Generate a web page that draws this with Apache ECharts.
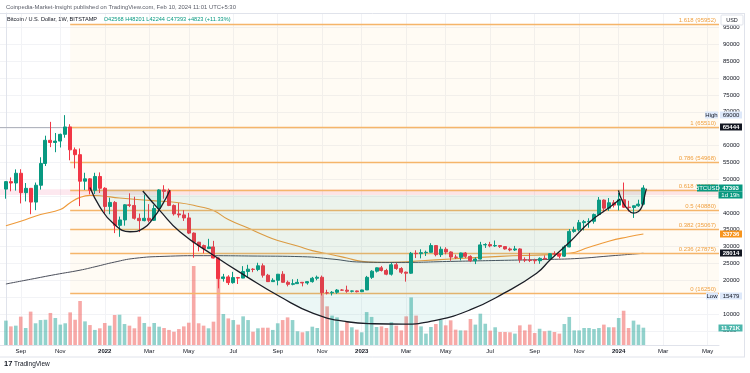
<!DOCTYPE html>
<html><head><meta charset="utf-8">
<script src="https://cdn.jsdelivr.net/npm/echarts@6/dist/echarts.min.js"></script>
<style>html,body{margin:0;padding:0;background:#fff}#c{width:750px;height:373px}</style>
</head><body><div id="c"></div>
<script>
// ---------------- DATA ----------------
const firstWeek = '2021-08-16';           // week index 0
const monthTickDates = ['2021-09-06','2021-11-01','2022-01-03','2022-03-07','2022-05-02','2022-07-04','2022-09-05','2022-11-07','2023-01-02','2023-03-06','2023-05-01','2023-07-03','2023-09-04','2023-11-06','2024-01-01','2024-03-04','2024-05-06'];
const monthTickLabels = ['Sep','Nov','2022','Mar','May','Jul','Sep','Nov','2023','Mar','May','Jul','Sep','Nov','2024','Mar','May'];
const priceTicks = [5000,10000,15000,20000,25000,30000,35000,40000,45000,50000,55000,60000,65000,70000,75000,80000,85000,90000,95000];

const opens = [
47050,49270,48860,51750,46000,47280,43200,48200,54660,61530,
60880,61300,63300,65500,58700,57270,49400,50100,46700,50800,
47300,41900,43100,36300,37900,42400,42200,38400,37700,38400,
37800,41300,46800,46400,42200,39700,39400,38500,34000,31300,
30300,29400,29900,26600,20500,21000,19300,20800,20650,22600,
23300,23200,24300,21500,19600,20000,21800,19400,18800,19000,
19400,19200,19600,20600,20900,16300,16280,16450,17100,17080,
16750,16840,16620,17130,20870,22700,23700,22900,21800,24600,
23500,22400,22100,28000,27900,28200,28300,30300,27600,29200,
28400,26900,26800,28100,27100,25800,26300,30500,30600,30200,
30300,30000,29300,29000,29300,26100,26000,25900,25800,26500,
26300,27900,27850,27150,29900,34500,35000,37100,37400,37500,
39500,43800,41400,43000,42300,43900,41700,41600,42100,42568];
const highs = [
49450,50500,52900,52950,48850,47350,49000,56500,62900,67000,
63700,63500,69000,66300,59400,59100,51900,50300,51900,52000,
47600,44500,43500,38900,42600,45800,44800,39800,45400,42600,
42300,47000,48200,47200,42500,42900,40800,40000,34200,31400,
30600,32300,31700,26800,21900,21500,22500,21000,24200,24600,
23600,25200,25000,21900,20600,21850,22700,19900,20300,20400,
19500,19700,21000,21400,21400,17200,16800,17400,17400,18400,
16950,16950,17200,21300,23000,23800,24250,23400,25200,25200,
23900,22600,28400,28900,29200,28800,31000,30400,30000,29800,
28600,27600,28200,28400,27400,26800,31400,31000,31400,31800,
30400,30100,29700,30200,29500,26800,28100,26400,26800,27400,
28000,28600,27900,30400,35200,35900,37900,37900,38400,39800,
44700,44000,44400,43800,45900,49000,43600,42200,43900,48201];
const lows = [
44200,46400,46600,42800,43400,39600,40800,46900,53900,59500,
58000,59400,62300,55600,53200,42000,46800,45500,45600,45900,
39700,39600,34000,32900,36200,41700,38000,34300,37500,37200,
37600,40500,44200,42000,39200,38600,37600,33700,26700,28600,
28000,29300,26500,17600,19600,18600,19000,18900,20600,20700,
22400,22700,20800,19500,19500,18500,19300,18200,18500,18900,
18200,18700,19300,20000,15500,15800,15479,16000,16900,16300,
16400,16400,16500,17100,20400,22300,22600,21500,21400,23100,
21900,19600,21900,26600,26500,27200,28200,27100,26900,27700,
25800,26300,25900,26600,25400,24800,26200,29600,29800,29900,
29600,29100,28600,28700,25200,25400,25400,24900,24900,26100,
26000,27200,26500,26900,29800,34100,34500,34800,35600,36800,
39300,40200,40600,41600,40700,41500,40400,38500,41800,42244];
const closes = [
49270,48860,51750,46000,47280,43200,48200,54660,61530,60880,
61300,63300,65500,58700,57270,49400,50100,46700,50800,47300,
41900,43100,36300,37900,42400,42200,38400,37700,38400,37800,
41300,46800,46400,42200,39700,39400,38500,34000,31300,30300,
29400,29900,26600,20500,21000,19300,20800,20650,22600,23300,
23200,24300,21500,19600,20000,21800,19400,18800,19000,19400,
19200,19600,20600,20900,16300,16280,16450,17100,17080,16750,
16840,16620,17130,20870,22700,23700,22900,21800,24600,23500,
22400,22100,28000,27900,28200,28300,30300,27600,29200,28400,
26900,26800,28100,27100,25800,26300,30500,30600,30200,30300,
30000,29300,29000,29300,26100,26000,25900,25800,26500,26300,
27900,27850,27150,29900,34500,35000,37100,37400,37500,39500,
43800,41400,43000,42300,43900,41700,41600,42100,42600,47393];
// weekly volume, thousands of BTC
const volumes = [
16.5,12.6,13.1,19.2,11.5,22.6,14.7,16.9,17.1,21.7,
18.3,13.8,14.7,22.1,17.1,29.8,16.0,13.5,10.2,11.3,
14.9,13.1,20.3,20.5,14.2,13.1,11.3,19.2,14.9,12.4,
14.9,12.4,11.5,10.2,9.0,10.8,12.6,15.1,53.5,14.7,
13.1,11.3,15.8,55.5,21.0,18.0,16.9,13.8,19.4,16.9,
9.0,11.3,11.7,11.7,10.2,14.7,16.9,18.7,16.9,9.3,
8.6,9.3,12.4,11.5,36.6,26.2,19.9,18.7,9.7,16.0,
12.0,10.4,8.6,22.3,19.0,12.2,12.6,11.5,15.4,13.1,
9.9,19.4,32.2,19.9,12.6,7.7,12.2,14.2,17.1,13.3,
16.7,10.4,9.9,9.9,17.6,13.8,21.2,14.4,9.7,12.0,
8.8,8.8,8.6,7.7,13.3,9.9,13.8,8.1,11.0,9.3,
9.7,8.8,7.7,14.2,19.0,9.9,9.9,11.5,11.5,10.8,
11.5,13.8,12.0,12.0,18.3,23.2,11.5,16.5,13.8,11.71];

// moving averages (week index, value)
const ma50Weeks = [0,3,7,11,13,15,17,19,23,29,35,39,42,45,49,52,55,59,62,66,69,72,75,80,84,90,100,110,114,118,122,126,129];
const ma50Vals  = [36200,37500,39500,41000,43000,44600,45200,45100,44400,43700,43000,41900,40700,38000,35500,33500,31800,30200,28800,27600,26600,25600,25300,25400,25800,26300,27100,27600,28000,29800,31600,32900,33736];
const ma200Weeks = [0,5,10,15,18,22,26,32,40,50,60,66,72,80,90,100,110,116,122,129];
const ma200Vals  = [18900,20300,21700,23000,24000,25400,26500,27100,27300,27200,27000,26300,25400,25300,25600,25900,26200,26500,27200,28014];

// fibonacci retracement levels
const fibRatios = ['1.618','1','0.786','0.618','0.5','0.382','0.236','0'];
const fibPrices = [95952,65510,54968,46693,40880,35067,27875,16250];
const fibStartWeek = 13;
const hLinePrice = 65444;
const zoneLow = 45300, zoneHigh = 47000;

// drawn cup / handle arcs (week index, price)
const smallArcWeeks = [17.0,19.0,21.7,25.1,27.8,29.8,31.8,33.2];
const smallArcVals  = [47500,41800,36900,34400,35400,38400,42800,46800];
const bigArcWeeks = [27.7,31.2,35.2,41.9,48.7,55.5,62.2,69.0,74.4,80.4,87.2,93.9,100.7,107.4,110.1,114.2,118.2,122.3,124.3];
const bigArcVals  = [46500,40600,34400,27500,21100,15100,10200,7700,7100,7000,8200,11200,16100,22100,26000,31500,37400,41800,44100];
const handleArcWeeks = [123.95,124.64,125.65,127.0,128.0,128.7,129.37,129.6];
const handleArcVals  = [46700,43800,41400,39900,40400,41800,45800,47200];

// ---------------- CHART ----------------
const F = "'Liberation Sans', Arial, sans-serif";
const X_MIN = -1.2, X_MAX = 144.3, Y_MIN = 800, Y_MAX = 99300, V_MAX = 224.8;
const UP = '#089981', DOWN = '#f23645';
const DAY = 86400000;
const weekPos = d => Math.round((Date.parse(d) - Date.parse(firstWeek)) / (7 * DAY));
const monthTickPos = monthTickDates.map(weekPos);

const chart = echarts.init(document.getElementById('c'), null, {renderer: 'canvas'});

const candleData = opens.map((o, i) => [i, o, closes[i], lows[i], highs[i]]);
const volData = volumes.map((v, i) => ({
  value: [i, v],
  itemStyle: {color: closes[i] >= opens[i] ? 'rgba(38,166,154,0.5)' : 'rgba(239,83,80,0.5)'}
}));
const pairs = (xs, ys) => xs.map((x, i) => [x, ys[i]]);

const arcSeries = (xs, ys, origin) => ({
  type: 'line', data: pairs(xs, ys), smooth: true, showSymbol: false, silent: true, z: 6,
  lineStyle: {color: '#1b1e27', width: 1.3},
  areaStyle: {color: 'rgba(38,166,154,0.13)', origin: origin},
  xAxisIndex: 0, yAxisIndex: 0
});

const option = {
  animation: false,
  backgroundColor: '#ffffff',
  grid: {left: 0, right: 31, top: 13, bottom: 28, containLabel: false},
  xAxis: [{
    type: 'value', min: X_MIN, max: X_MAX,
    axisLine: {show: true, lineStyle: {color: '#e0e3eb'}},
    axisTick: {show: false, customValues: monthTickPos},
    splitLine: {show: true, lineStyle: {color: '#f2f3f6', width: 1}},
    axisLabel: {
      customValues: monthTickPos, margin: 3, fontSize: 6, fontFamily: F, color: '#131722',
      formatter: v => {
        const k = monthTickPos.indexOf(v);
        const t = k >= 0 ? monthTickLabels[k] : '';
        return /^\d{4}$/.test(t) ? '{y|' + t + '}' : t;
      },
      rich: {y: {fontWeight: 'bold', fontSize: 6, fontFamily: F, color: '#131722'}}
    }
  }],
  yAxis: [{
    type: 'value', position: 'right', min: Y_MIN, max: Y_MAX,
    axisLine: {show: true, lineStyle: {color: '#e0e3eb'}},
    axisTick: {show: false, customValues: priceTicks},
    splitLine: {show: true, lineStyle: {color: '#f2f3f6', width: 1}},
    axisLabel: {customValues: priceTicks, margin: 4, fontSize: 6, fontFamily: F, color: '#131722',
      formatter: v => String(v)}
  }, {
    type: 'value', position: 'right', min: 0, max: V_MAX, show: false,
    splitLine: {show: false}
  }],
  series: [
    { // backgrounds: fib zone and pink horizontal zone
      type: 'line', data: [[X_MIN, Y_MIN]], showSymbol: false, silent: true, z: 1,
      lineStyle: {opacity: 0},
      markArea: {
        silent: true, label: {show: false},
        data: [
          [{coord: [fibStartWeek, fibPrices[fibPrices.length - 1]], itemStyle: {color: 'rgba(255,152,0,0.045)'}},
           {coord: [X_MAX, fibPrices[0]]}],
          [{coord: [X_MIN, zoneLow], itemStyle: {color: 'rgba(233,30,99,0.10)'}},
           {coord: [X_MAX, zoneHigh]}]
        ]
      }
    },
    {
      name: 'Volume', type: 'bar', data: volData, xAxisIndex: 0, yAxisIndex: 1,
      barWidth: 3.6, silent: true, z: 2
    },
    arcSeries(smallArcWeeks, smallArcVals, 47000),
    arcSeries(bigArcWeeks, bigArcVals, 45300),
    arcSeries(handleArcWeeks, handleArcVals, 46900),
    { // fib lines
      type: 'line', data: [[X_MIN, Y_MIN]], showSymbol: false, silent: true, z: 3,
      lineStyle: {opacity: 0},
      markLine: {
        silent: true, symbol: ['none', 'none'], animation: false,
        lineStyle: {color: '#f5b56a', width: 1.3, type: 'solid'},
        label: {show: true, position: 'insideEndTop', formatter: p => p.name,
          color: '#f0a040', fontSize: 6, fontFamily: F, distance: [3, 1]},
        data: [[{coord: [X_MIN, hLinePrice], name: '', lineStyle: {color: '#b2b5be', width: 1}, label: {show: false}},
                {coord: [X_MAX, hLinePrice]}]].concat(
          fibPrices.map((p, i) => [{coord: [fibStartWeek, p], name: fibRatios[i] + ' (' + p + ')'},
                                   {coord: [X_MAX, p]}]))
      }
    },
    {
      name: 'MA50', type: 'line', data: pairs(ma50Weeks, ma50Vals), smooth: true, showSymbol: false,
      silent: true, z: 4, lineStyle: {color: '#ee9a3a', width: 1.1}
    },
    {
      name: 'MA200', type: 'line', data: pairs(ma200Weeks, ma200Vals), smooth: true, showSymbol: false,
      silent: true, z: 4, lineStyle: {color: '#4a4e5a', width: 1}
    },
    {
      name: 'BTCUSD', type: 'candlestick', data: candleData, encode: {x: 0, y: [1, 2, 3, 4]},
      barWidth: 3.5, z: 5, silent: true,
      itemStyle: {color: UP, color0: DOWN, borderColor: UP, borderColor0: DOWN, borderWidth: 1}
    }
  ]
};
chart.setOption(option);

// ---------- annotations: header, tags, frame ----------
const yPix = v => chart.convertToPixel({yAxisIndex: 0}, v);
const vPix = v => chart.convertToPixel({yAxisIndex: 1}, v);
function tag(x, yc, w, text, bg, fg, bold) {
  return [
    {type: 'rect', z: 100, shape: {x: x, y: Math.round(yc) - 3.5, width: w, height: 7}, style: {fill: bg}},
    {type: 'text', z: 101, x: x + w / 2, y: Math.round(yc), style: {text: text, fill: fg, fontSize: 6,
      fontFamily: F, align: 'center', verticalAlign: 'middle', fontWeight: bold ? 'bold' : 'normal'}}
  ];
}
const last = closes.length - 1;
const hi = Math.max(...highs), lo = Math.min(...lows);
const LB = '#dde8fa';
let g = [];
g.push({type: 'text', z: 100, x: 6, y: 7, style: {text: 'Coinpedia-Market-Insight published on TradingView.com, Feb 10, 2024 11:01 UTC+5:30',
  fill: '#5d606b', fontSize: 5.9, fontFamily: F, verticalAlign: 'middle'}});
g.push({type: 'text', z: 100, x: 7, y: 19, style: {
  text: '{a|Bitcoin / U.S. Dollar, 1W, BITSTAMP}  {g|O' + opens[last] + ' H' + highs[last] + ' L' + lows[last] + ' C' + closes[last] +
        ' +4823 (+11.33%)}',
  verticalAlign: 'middle',
  rich: {a: {fill: '#131722', fontSize: 5.6, fontFamily: F}, g: {fill: UP, fontSize: 5.6, fontFamily: F}}}});
// frame lines
g.push({type: 'line', z: 99, shape: {x1: 0, y1: 13.5, x2: 745, y2: 13.5}, style: {stroke: '#e0e3eb', lineWidth: 1}});
g.push({type: 'line', z: 99, shape: {x1: 744.5, y1: 13.5, x2: 744.5, y2: 357}, style: {stroke: '#e0e3eb', lineWidth: 1}});
g.push({type: 'line', z: 99, shape: {x1: 0, y1: 357, x2: 745, y2: 357}, style: {stroke: '#e0e3eb', lineWidth: 1}});
// USD box
g.push({type: 'rect', z: 100, shape: {x: 721, y: 15, width: 22, height: 10, r: 1}, style: {fill: '#fff', stroke: '#e0e3eb', lineWidth: 1}});
g.push({type: 'text', z: 101, x: 732, y: 20, style: {text: 'USD', fill: '#131722', fontSize: 5.5, fontFamily: F, align: 'center', verticalAlign: 'middle'}});
// price scale tags
g = g.concat(tag(705, yPix(hi), 13, 'High', LB, '#131722'));
g = g.concat(tag(720, yPix(hi), 22, String(hi), LB, '#131722'));
g = g.concat(tag(720, yPix(hLinePrice), 22, String(hLinePrice), '#131722', '#ffffff', true));
g = g.concat(tag(697, yPix(closes[last]), 21, 'BTCUSD', UP, '#ffffff'));
g = g.concat(tag(718.5, yPix(closes[last]), 24, String(closes[last]), UP, '#ffffff', true));
g = g.concat(tag(718.5, yPix(closes[last]) + 7, 24, '1d 19h', UP, '#ffffff'));
g = g.concat(tag(720, yPix(ma50Vals[ma50Vals.length - 1]), 22, String(ma50Vals[ma50Vals.length - 1]), '#f7941d', '#ffffff', true));
g = g.concat(tag(720, yPix(ma200Vals[ma200Vals.length - 1]), 22, String(ma200Vals[ma200Vals.length - 1]), '#131722', '#ffffff', true));
g = g.concat(tag(706, yPix(lo), 12, 'Low', LB, '#131722'));
g = g.concat(tag(720, yPix(lo), 22, String(lo), LB, '#131722'));
g = g.concat(tag(718.5, vPix(volumes[last]), 24, volumes[last].toFixed(2) + 'K', '#4db6ac', '#ffffff', true));
// TradingView logo
g.push({type: 'text', z: 100, x: 4, y: 364, style: {text: '17', fill: '#131722', fontSize: 7.5, fontWeight: 'bold', fontFamily: F, verticalAlign: 'middle'}});
g.push({type: 'text', z: 100, x: 14, y: 364, style: {text: 'TradingView', fill: '#131722', fontSize: 6.5, fontFamily: F, verticalAlign: 'middle'}});
chart.setOption({graphic: g});
</script>
</body></html>
